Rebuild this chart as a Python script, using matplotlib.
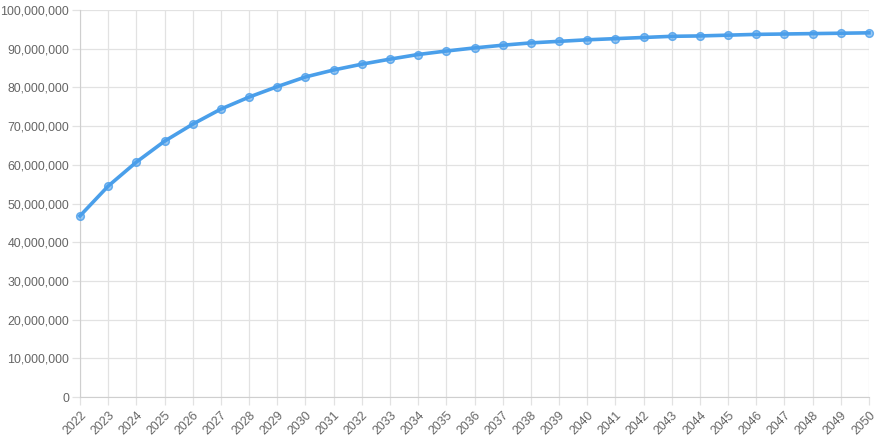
import matplotlib
matplotlib.use('Agg')
from matplotlib import pyplot as plt
from matplotlib.ticker import FuncFormatter, MultipleLocator

plt.rcParams['font.family'] = ['Liberation Sans', 'DejaVu Sans']

years = list(range(2022, 2051))
values = [46.8, 54.5, 60.7, 66.1, 70.5, 74.4, 77.5, 80.2, 82.7, 84.5,
          86.0, 87.3, 88.5, 89.4, 90.2, 90.9, 91.5, 91.9, 92.3, 92.6,
          92.9, 93.2, 93.3, 93.5, 93.7, 93.8, 93.9, 94.0, 94.1]
values = [v * 1e6 for v in values]

fig = plt.figure(figsize=(8.83, 4.41), dpi=100)
ax = fig.add_axes([80 / 883, 44 / 441, 789 / 883, 387 / 441])

line_color = '#4a9fea'
ax.plot(years, values, color=line_color, lw=2.6, zorder=3,
        marker='o', ms=5.5, mfc=(0.29, 0.62, 0.92, 0.55), mec=(0.29, 0.62, 0.92, 0.8), mew=1.1,
        clip_on=False)

ax.set_xlim(2022, 2050)
ax.set_ylim(0, 100e6)
ax.set_xticks(years)
ax.set_xticklabels([str(y) for y in years], rotation=45, ha='right', rotation_mode='anchor')
ax.yaxis.set_major_locator(MultipleLocator(10e6))
ax.yaxis.set_major_formatter(FuncFormatter(lambda v, p: f'{int(v):,}'))

grid_c = '#e2e2e2'
ax.grid(True, color=grid_c, lw=0.9)
ax.set_axisbelow(True)
for s in ax.spines.values():
    s.set_visible(False)
ax.spines['left'].set_visible(True)
ax.spines['bottom'].set_visible(True)
ax.spines['left'].set_color('#cfcfcf')
ax.spines['bottom'].set_color('#cfcfcf')
ax.tick_params(axis='both', colors=grid_c, labelcolor='#666666', labelsize=8.9, length=6, width=0.9, pad=3)
ax.tick_params(axis='y', pad=2)

fig.savefig('out.png', dpi=100, facecolor='white')
